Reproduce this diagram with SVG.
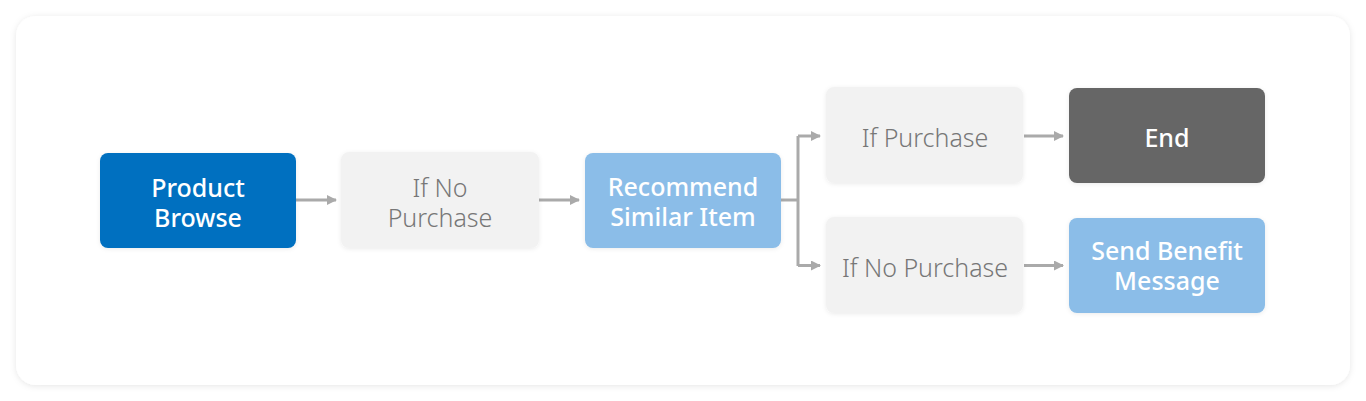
<svg xmlns="http://www.w3.org/2000/svg" width="1366" height="401" viewBox="0 0 1366 401">
<defs>
<style>
.t{font-family:"Noto Sans","Open Sans","Liberation Sans",sans-serif;font-size:25px;text-anchor:middle}
.w{fill:#ffffff;font-weight:500}
.g{fill:#777777;font-weight:300}
.c{fill:none;stroke:#aaaaaa;stroke-width:3}
</style>
<filter id="card" x="-5%" y="-10%" width="110%" height="120%">
<feDropShadow dx="0" dy="1" stdDeviation="3" flood-color="#000" flood-opacity="0.1"/>
</filter>
<filter id="sh" x="-10%" y="-15%" width="120%" height="130%">
<feDropShadow dx="0" dy="1" stdDeviation="2" flood-color="#000" flood-opacity="0.08"/>
</filter>
<marker id="ah" markerWidth="10" markerHeight="10" refX="9" refY="5" orient="auto" markerUnits="userSpaceOnUse">
<path d="M0,0 L10,5 L0,10 Z" fill="#aaaaaa"/>
</marker>
</defs>
<rect width="1366" height="401" fill="#ffffff"/>
<rect x="16" y="16" width="1334" height="369" rx="20" fill="#ffffff" filter="url(#card)"/>

<g id="connectors">
<path class="c" d="M296,200 H336" marker-end="url(#ah)"/>
<path class="c" d="M539,200 H579" marker-end="url(#ah)"/>
<path class="c" d="M781,200 H798"/>
<path class="c" d="M798,136 V266"/>
<path class="c" d="M798,136 H820" marker-end="url(#ah)"/>
<path class="c" d="M798,265.5 H820" marker-end="url(#ah)"/>
<path class="c" d="M1024,136 H1063" marker-end="url(#ah)"/>
<path class="c" d="M1024,265.5 H1063" marker-end="url(#ah)"/>
</g>

<g id="product-browse">
<rect x="100" y="153" width="196" height="95" rx="8" fill="#0070c0" filter="url(#sh)"/>
<text class="t w" x="198" y="197">Product<tspan x="198" dy="30">Browse</tspan></text>
</g>

<g id="if-no-purchase-1">
<rect x="341" y="152" width="198" height="96" rx="8" fill="#f2f2f2" filter="url(#sh)"/>
<text class="t g" x="440" y="197">If No<tspan x="440" dy="30">Purchase</tspan></text>
</g>

<g id="recommend-similar-item">
<rect x="585" y="153" width="196" height="95" rx="8" fill="#8bbde8" filter="url(#sh)"/>
<text class="t w" x="683" y="196">Recommend<tspan x="683" dy="30">Similar Item</tspan></text>
</g>

<g id="if-purchase">
<rect x="826" y="87" width="197" height="96" rx="8" fill="#f2f2f2" filter="url(#sh)"/>
<text class="t g" x="925" y="147">If Purchase</text>
</g>

<g id="if-no-purchase-2">
<rect x="826" y="217" width="197" height="96" rx="8" fill="#f2f2f2" filter="url(#sh)"/>
<text class="t g" x="925" y="277">If No Purchase</text>
</g>

<g id="end">
<rect x="1069" y="88" width="196" height="95" rx="8" fill="#666666" filter="url(#sh)"/>
<text class="t w" x="1167" y="147">End</text>
</g>

<g id="send-benefit-message">
<rect x="1069" y="218" width="196" height="95" rx="8" fill="#8bbde8" filter="url(#sh)"/>
<text class="t w" x="1167" y="260">Send Benefit<tspan x="1167" dy="30">Message</tspan></text>
</g>
</svg>
